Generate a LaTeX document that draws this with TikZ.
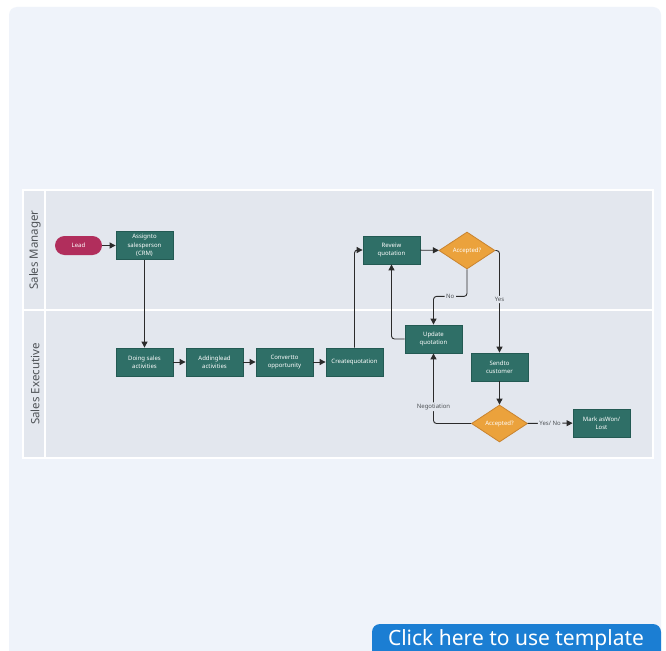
\documentclass[tikz,border=0pt]{standalone}
\usepackage{fontspec}
\setmainfont{Noto Sans}
\usetikzlibrary{shapes.geometric,arrows.meta}
\definecolor{panelbg}{HTML}{EFF3FA}
\definecolor{lanebg}{HTML}{E3E7EE}
\definecolor{stepfill}{HTML}{2F6F67}
\definecolor{stepline}{HTML}{235A53}
\definecolor{decfill}{HTML}{EBA23C}
\definecolor{decline}{HTML}{C98430}
\definecolor{leadfill}{HTML}{B12E5C}
\definecolor{lanetext}{HTML}{4F5357}
\definecolor{edgecol}{HTML}{2B2B2B}
\definecolor{btnblue}{HTML}{1B7ED3}
\tikzset{
  stepbox/.style={rectangle, draw=stepline, fill=stepfill, line width=0.8pt,
    minimum width=57pt, minimum height=28pt, inner sep=1pt, align=center,
    text=white, font=\fontsize{6}{8.5}\selectfont},
  decision/.style={diamond, draw=decline, fill=decfill, line width=0.8pt,
    minimum width=56pt, minimum height=37pt, inner sep=0pt, aspect=1.5,
    text=white, font=\fontsize{6}{8}\selectfont},
  startnode/.style={rectangle, rounded corners=9.5pt, fill=leadfill,
    minimum width=47pt, minimum height=19pt, inner sep=0pt,
    text=white, font=\fontsize{6}{8}\selectfont},
  flow/.style={draw=edgecol, line width=0.9pt, rounded corners=3pt,
    -{Triangle[length=6pt,width=6pt]}},
  flowlabel/.style={fill=lanebg, inner sep=1.5pt, text=lanetext,
    font=\fontsize{6}{8}\selectfont},
  lanelabel/.style={rotate=90, text=lanetext, font=\fontsize{11.5}{13}\selectfont},
}
\begin{document}
\begin{tikzpicture}[x=1pt,y=-1pt]
\useasboundingbox (0,0) rectangle (666,650);
\fill[white] (0,0) rectangle (666,650);
% page panel, running off the bottom edge
\begin{scope}
  \clip (0,0) rectangle (666,650);
  \fill[panelbg, rounded corners=8pt] (9,7) rectangle (661,670);
\end{scope}

% swimlanes
\fill[lanebg] (23,190) rectangle (653,458);
\draw[white, line width=1.4pt] (23,190) rectangle (653,458);
\draw[white, line width=1.4pt] (45,190) -- (45,458);
\draw[white, line width=1.4pt] (23,310) -- (653,310);
\node[lanelabel] (lanemgr) at (35,250) {Sales Manager};
\node[lanelabel] (laneexec) at (35,384) {Sales Executive};

% steps
\node[startnode] (lead) at (78.5,245.5) {Lead};
\node[stepbox] (assign) at (144.5,245.5) {Assignto\\salesperson\\(CRM)};
\node[stepbox] (doing) at (144.5,362) {Doing sales\\activities};
\node[stepbox] (adding) at (214.5,362) {Addinglead\\activities};
\node[stepbox] (convert) at (284.5,362) {Convertto\\opportunity};
\node[stepbox] (create) at (354.5,362) {Createquotation};
\node[stepbox] (review) at (391.5,250) {Reveiw\\quotation};
\node[decision] (acc1) at (467,250.5) {Accepted?};
\node[stepbox] (update) at (433.5,339) {Update\\quotation};
\node[stepbox] (send) at (499.5,367) {Sendto\\customer};
\node[decision] (acc2) at (499.5,423.5) {Accepted?};
\node[stepbox] (mark) at (601.5,423) {Mark asWon/\\Lost};

% connectors
\draw[flow] (lead) -- (assign);
\draw[flow] (assign) -- (doing);
\draw[flow] (doing) -- (adding);
\draw[flow] (adding) -- (convert);
\draw[flow] (convert) -- (create);
\draw[flow] (create.north) |- (review.west);
\draw[flow] (review) -- (acc1);
\draw[flow] (acc1.south) -- ++(0,27) -| node[flowlabel, pos=0.25] {No} (update.north);
\draw[flow] (acc1.east) -| node[flowlabel, pos=0.74] {Yes} (send.north);
\draw[flow] (update.west) -| (review.south);
\draw[flow] (send) -- (acc2);
\draw[flow] (acc2.west) -| node[flowlabel, pos=0.62] {Negotiation} (update.south);
\draw[flow] (acc2) -- node[flowlabel] {Yes/ No} (mark);

% template button, running off the bottom edge
\begin{scope}
  \clip (0,0) rectangle (666,650);
  \fill[btnblue, rounded corners=8pt] (372,624) rectangle (661,670);
\end{scope}
\node[text=white, font=\fontsize{21}{23}\selectfont, anchor=base] (button) at (516,645) {Click here to use template};
\end{tikzpicture}
\end{document}
